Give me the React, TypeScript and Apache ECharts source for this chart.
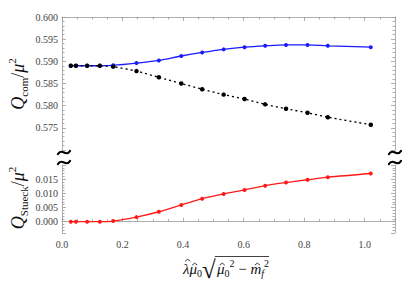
import React, { useEffect, useRef } from 'react';
import * as echarts from 'echarts';

// ---- data ----
const xValues = [0.029, 0.046, 0.083, 0.125, 0.169, 0.246, 0.320, 0.394, 0.463, 0.534, 0.603, 0.671, 0.740, 0.811, 0.878, 1.020];
const qComBlue = [0.5890, 0.5890, 0.5890, 0.5890, 0.5891, 0.5896, 0.5902, 0.5912, 0.5920, 0.5927, 0.5932, 0.5935, 0.5937, 0.5937, 0.5935, 0.5932];
const qComBlack = [0.5890, 0.5890, 0.5890, 0.5890, 0.5888, 0.5878, 0.5864, 0.5850, 0.5837, 0.5825, 0.5815, 0.5803, 0.5793, 0.5784, 0.5774, 0.5757];
const qStueck = [0.0000, 0.0000, 0.0000, 0.0000, 0.0002, 0.0016, 0.0035, 0.0059, 0.0081, 0.0098, 0.0112, 0.0127, 0.0138, 0.0148, 0.0157, 0.0170];
const xTickLabels = [0.0, 0.2, 0.4, 0.6, 0.8, 1.0];
const topYTickLabels = [0.575, 0.580, 0.585, 0.590, 0.595, 0.600];
const bottomYTickLabels = [0.000, 0.005, 0.010, 0.015];

const SERIF = '"Liberation Serif", "DejaVu Serif", serif';
const AXIS_GRAY = '#9a9a9a';
const LABEL_COLOR = '#444';

type Piece = { t: string; s: number; it?: boolean; dy?: number; ol?: 'start' | 'end'; hat?: number };

function buildRun(pieces: Piece[], cx: number, baseY: number, fill: string) {
  const ctx = document.createElement('canvas').getContext('2d')!;
  const widths = pieces.map((p) => {
    if (p.ol) return 0;
    ctx.font = `${p.it ? 'italic ' : ''}${p.s}px ${SERIF}`;
    return ctx.measureText(p.t).width;
  });
  const total = widths.reduce((a, b) => a + b, 0);
  let x = cx - total / 2;
  const els: any[] = [];
  let olStart = 0;
  pieces.forEach((p, i) => {
    if (p.ol === 'start') { olStart = x - 1; return; }
    if (p.ol === 'end') {
      els.push({ type: 'line', shape: { x1: olStart, y1: baseY - 16.5, x2: x, y2: baseY - 16.5 }, style: { stroke: fill, lineWidth: 0.8 }, silent: true });
      return;
    }
    const y = baseY + (p.dy || 0) - 0.3 * p.s;
    els.push({
      type: 'text',
      x, y,
      silent: true,
      style: {
        text: p.t,
        font: `${p.it ? 'italic ' : ''}${p.s}px ${SERIF}`,
        fill,
        align: 'left', verticalAlign: 'middle',
        textAlign: 'left', textVerticalAlign: 'middle',
      },
    });
    if (p.hat) {
      const hx = x + widths[i] / 2 + (p.it ? 0.1 * p.s : 0);
      const hy = baseY + (p.dy || 0) - p.hat * p.s;
      els.push({
        type: 'polyline', silent: true,
        shape: { points: [[hx - 2.6, hy + 2], [hx, hy], [hx + 2.6, hy + 2]] },
        style: { stroke: fill, lineWidth: 0.8, fill: 'none' },
      });
    }
    x += widths[i];
  });
  return els;
}

function fmt(list: number[], digits: number) {
  return (v: number) => (list.some((t) => Math.abs(t - v) < 1e-9) ? v.toFixed(digits) : '');
}

export default function App() {
  const ref = useRef<HTMLDivElement>(null);
  useEffect(() => {
    if (!ref.current) return;
    const chart = echarts.init(ref.current, undefined, { renderer: 'svg' });

    const tickStyle = { lineStyle: { color: AXIS_GRAY, width: 0.8 } };
    const axisLine = { show: true, lineStyle: { color: AXIS_GRAY, width: 0.8 } };
    const labelStyle = { color: LABEL_COLOR, fontFamily: SERIF, fontSize: 10 };

    const xBase = {
      type: 'value', min: 0, max: 1.1, interval: 0.2,
      axisLine, splitLine: { show: false },
      axisTick: { show: true, inside: true, length: 4, ...tickStyle },
      minorTick: { show: true, splitNumber: 4, length: 2.5, ...tickStyle },
    };
    const yTop = {
      type: 'value', min: 0.57, max: 0.6, interval: 0.005, gridIndex: 0,
      axisLine, splitLine: { show: false },
      axisTick: { show: true, inside: true, length: 4, ...tickStyle },
      minorTick: { show: true, splitNumber: 5, length: 2.5, ...tickStyle },
    };
    const yBot = {
      type: 'value', min: -0.004, max: 0.02, minInterval: 0.005, maxInterval: 0.005, gridIndex: 1,
      axisLine, splitLine: { show: false },
      axisTick: { show: true, inside: true, length: 4, ...tickStyle },
      minorTick: { show: true, splitNumber: 5, length: 2.5, ...tickStyle },
    };

    const topTitle = buildRun(
      [
        { t: 'Q', s: 18, it: true },
        { t: 'com', s: 11, dy: 4 },
        { t: '/', s: 18 },
        { t: 'μ', s: 18, it: true },
        { t: '2', s: 11, dy: -8 },
      ], 0, 0, '#111');
    const botTitle = buildRun(
      [
        { t: 'Q', s: 18, it: true },
        { t: 'Stueck', s: 11, dy: 4 },
        { t: '/', s: 18 },
        { t: 'μ', s: 18, it: true },
        { t: '2', s: 11, dy: -8 },
      ], 0, 0, '#111');
    const xTitle = buildRun(
      [
        { t: 'λ', s: 15, it: true, hat: 0.92 },
        { t: 'μ', s: 15, it: true, hat: 0.66 },
        { t: '0', s: 10, dy: 3 },
        { t: '√', s: 25, dy: 4 },
        { t: '', s: 0, ol: 'start' },
        { t: ' ', s: 5 },
        { t: 'μ', s: 15, it: true, hat: 0.66 },
        { t: '0', s: 10, dy: 3 },
        { t: '2', s: 10, dy: -7 },
        { t: ' − ', s: 15 },
        { t: 'm', s: 15, it: true, hat: 0.66 },
        { t: 'f', s: 10, it: true, dy: 3 },
        { t: '2', s: 10, dy: -7 },
        { t: '', s: 0, ol: 'end' },
      ], 226, 273, '#111');

    const tilde = (x: number, y: number) => ({
      type: 'bezierCurve', silent: true, z: 100,
      shape: { x1: x - 6, y1: y + 1.5, cpx1: x - 2, cpy1: y - 5, cpx2: x + 2, cpy2: y + 5, x2: x + 6, y2: y - 1.5 },
      style: { stroke: '#000', lineWidth: 2.3, fill: 'none', lineCap: 'round' },
    });
    const breakMark = (x: number) => [tilde(x, 152.5), tilde(x, 162.5)];

    chart.setOption({
      animation: false,
      grid: [
        { left: 62, right: 20, top: 17, height: 133 },
        { left: 62, right: 20, top: 165, height: 68 },
      ],
      xAxis: [
        { ...xBase, gridIndex: 0, position: 'top', axisLabel: { show: false } },
        {
          ...xBase, gridIndex: 1, position: 'bottom',
          axisLabel: { show: true, ...labelStyle, margin: 6, formatter: fmt(xTickLabels, 1) },
        },
      ],
      yAxis: [
        { ...yTop, position: 'left', axisLabel: { show: true, ...labelStyle, margin: 4, formatter: fmt(topYTickLabels, 3) } },
        { ...yTop, position: 'right', axisLabel: { show: false } },
        { ...yBot, position: 'left', axisLabel: { show: true, ...labelStyle, margin: 4, formatter: fmt(bottomYTickLabels, 3) } },
        { ...yBot, position: 'right', axisLabel: { show: false } },
      ],
      series: [
        {
          type: 'line', xAxisIndex: 0, yAxisIndex: 0, smooth: 0.3,
          data: xValues.map((x, i) => [x, qComBlue[i]]),
          symbol: 'circle', symbolSize: 4,
          itemStyle: { color: '#1a1aff' }, lineStyle: { color: '#1a1aff', width: 1.3 },
        },
        {
          type: 'line', xAxisIndex: 0, yAxisIndex: 0, smooth: 0.2,
          data: xValues.map((x, i) => [x, qComBlack[i]]),
          symbol: 'circle', symbolSize: 4.5,
          itemStyle: { color: '#000' }, lineStyle: { color: '#000', width: 1.3, type: [2, 3] },
        },
        {
          type: 'line', xAxisIndex: 1, yAxisIndex: 2, smooth: 0.3,
          data: xValues.map((x, i) => [x, qStueck[i]]),
          symbol: 'circle', symbolSize: 4,
          itemStyle: { color: '#ff1a1a' }, lineStyle: { color: '#ff1a1a', width: 1.3 },
        },
      ],
      graphic: [
        { type: 'group', x: 23, y: 84, rotation: Math.PI / 2, children: topTitle },
        { type: 'group', x: 23, y: 198, rotation: Math.PI / 2, children: botTitle },
        ...xTitle,
        ...breakMark(64),
        ...breakMark(395),
      ],
    });
    return () => chart.dispose();
  }, []);
  return <div ref={ref} style={{ width: 415, height: 284, position: 'absolute', left: 0, top: 0 }} />;
}
